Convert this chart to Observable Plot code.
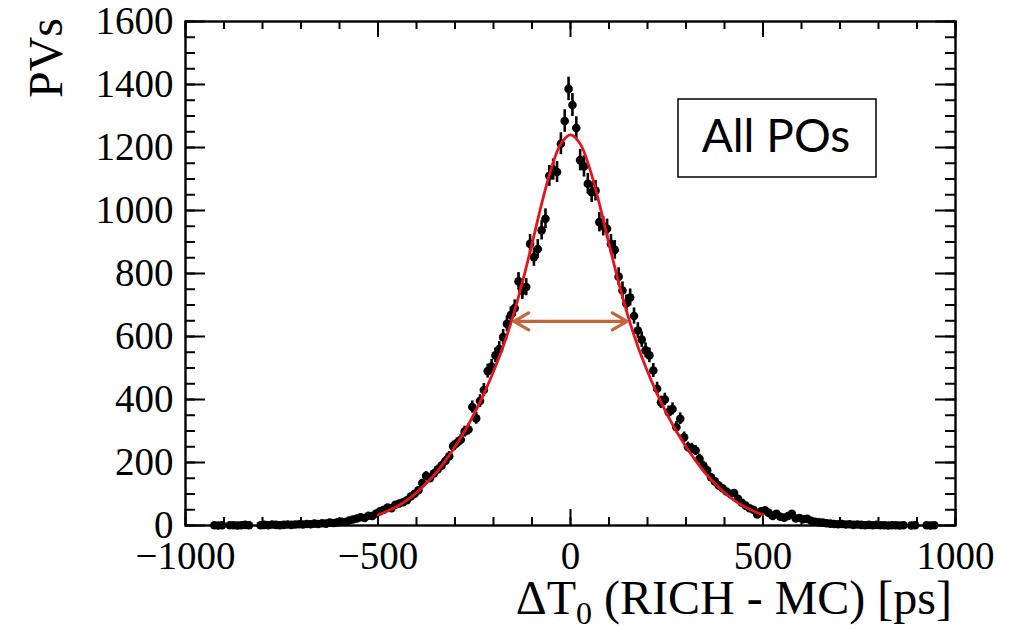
<!DOCTYPE html>
<html>
<head>
<meta charset="utf-8">
<script src="https://cdn.jsdelivr.net/npm/d3@7"></script>
<script src="https://cdn.jsdelivr.net/npm/@observablehq/plot@0.6"></script>
<style>
  html, body { margin: 0; padding: 0; background: #fff; }
</style>
</head>
<body>
<div id="chart"></div>
<script>
// ---------- data ----------
// histogram: 10 ps bins, first bin centre at -995 ps; null = empty bin (not drawn)
const binStart = -995;
const binWidth = 10;
const counts = [
  null, null, null, null, null, null, null, 1, 0, 1,          // -995 .. -905
  null, 1, 1, 0, 1, 2, 1, null, null, 1,                      // -895 .. -805
  2, 1, 3, 2, 1, 2, 3, 2, 3, 4,                               // -795 .. -705
  3, 5, 4, 6, 5, 7, 6, 9, 8, 10,                              // -695 .. -605
  12, 11, 16, 19, 22, 26, 24, 31, 30, 38,                     // -595 .. -505
  45, 50, 57, 55, 66, 70, 74, 80, 92, 101,                    // -495 .. -405
  112, 135, 158, 150, 165, 178, 190, 205, 220, 252,           // -395 .. -305
  262, 272, 298, 305, 376, 340, 395, 430, 490, 505,           // -295 .. -205
  540, 560, 598, 640, 668, 690, 775, 745, 757, 894,           // -195 .. -105
  852, 878, 937, 974, 1110, 1130, 1122, 1212, 1284, 1386,     //  -95 ..   -5
  1335, 1262, 1160, 1140, 1085, 1058, 1063, 963, 950, 942,    //    5 ..   95
  894, 875, 790, 746, 705, 724, 665, 619, 590, 556,           //  105 ..  195
  540, 492, 434, 391, 400, 360, 370, 312, 339, 280,           //  205 ..  295
  249, 245, 238, 212, 190, 175, 153, 140, 127, 118,           //  305 ..  395
  108, 101, 103, 85, 72, 63, 55, 50, 35, 45,                  //  405 ..  495
  48, 40, 30, 37, 28, 25, 30, 37, 22, 24,                     //  505 ..  595
  20, 21, 15, 12, 10, 9, 7, 6, 5, 4,                          //  605 ..  695
  5, 3, 4, 2, 3, 2, 1, 2, 1, 2,                               //  705 ..  795
  1, 1, 0, 1, 1, 0, 1, null, 0, 1,                            //  805 ..  895
  null, null, 1, 0, 1, null, null, null, null, null           //  905 ..  995
];

// fitted curve (red), read at 25 ps steps
const fitX = [-500,-475,-450,-425,-400,-375,-350,-325,-300,-275,-250,-225,-200,-175,-150,-125,-100,-75,-50,-25,
              0,25,50,75,100,125,150,175,200,225,250,275,300,325,350,375,400,425,450,475,500];
const fitY = [34,46,61,80,104,133,166,206,250,299,355,418,489,568,662,772,894,1021,1133,1212,
              1240,1212,1133,1021,894,772,662,568,489,418,355,299,250,206,166,133,104,80,61,46,34];

// FWHM arrow
const fwhmLow = -147, fwhmHigh = 147, fwhmLevel = 648;

// axes
const xTicks = [-1000, -500, 0, 500, 1000];
const yTicks = [0, 200, 400, 600, 800, 1000, 1200, 1400, 1600];
const xTitleMain = "\u0394T", xTitleSub = "0", xTitleRest = " (RICH - MC) [ps]";
const yTitle = "PVs";
const boxLabel = "All POs";

// ---------- build ----------
const hist = counts.map((n, i) => ({x: binStart + i * binWidth, n})).filter(d => d.n !== null);
const fit = fitX.map((x, i) => ({x, y: fitY[i]}));
const xMinor = d3.range(-1000, 1001, 100);
const yMinor = d3.range(0, 1601, 50);
const fmt = d => d < 0 ? "\u2212" + Math.abs(d) : String(d);

const W = 1023, H = 630;
const mL = 185, mR = 68, mT = 21, mB = 105;
const fW = W - mL - mR, fH = H - mT - mB;

const chart = Plot.plot({
  width: W, height: H,
  marginLeft: mL, marginRight: mR, marginTop: mT, marginBottom: mB,
  x: {domain: [-1000, 1000]},
  y: {domain: [0, 1600]},
  style: {fontFamily: "'Liberation Serif', 'Times New Roman', serif", fontSize: "39px", color: "#000", background: "#fff"},
  marks: [
    // ROOT-style inward ticks on all four sides
    Plot.ruleX(xMinor, {insetTop: fH - 8, stroke: "#000", strokeWidth: 2}),
    Plot.ruleX(xTicks, {insetTop: fH - 16, stroke: "#000", strokeWidth: 2}),
    Plot.ruleX(xMinor, {insetBottom: fH - 8, stroke: "#000", strokeWidth: 2}),
    Plot.ruleX(xTicks, {insetBottom: fH - 16, stroke: "#000", strokeWidth: 2}),
    Plot.ruleY(yMinor, {insetRight: fW - 10, stroke: "#000", strokeWidth: 2}),
    Plot.ruleY(yTicks, {insetRight: fW - 20, stroke: "#000", strokeWidth: 2}),
    Plot.ruleY(yMinor, {insetLeft: fW - 10, stroke: "#000", strokeWidth: 2}),
    Plot.ruleY(yTicks, {insetLeft: fW - 20, stroke: "#000", strokeWidth: 2}),
    Plot.axisX(xTicks, {tickSize: 0, tickPadding: 16, tickFormat: fmt, label: null}),
    Plot.axisY(yTicks, {tickSize: 0, tickPadding: 12, tickFormat: fmt, label: null}),
    // data points with Poisson error bars
    Plot.ruleX(hist, {x: "x", y1: d => d.n - Math.sqrt(d.n), y2: d => d.n + Math.sqrt(d.n), stroke: "#000", strokeWidth: 2.6}),
    Plot.dot(hist, {x: "x", y: "n", r: 4.3, fill: "#000", stroke: "none"}),
    // fit
    Plot.line(fit, {x: "x", y: "y", stroke: "#e8141c", strokeWidth: 2.8, curve: "catmull-rom"}),
    // FWHM double arrow
    Plot.arrow([fwhmLow, fwhmHigh], {x1: (fwhmLow + fwhmHigh) / 2, y1: fwhmLevel, x2: d => d, y2: fwhmLevel,
      stroke: "#c5653b", strokeWidth: 3.2, headLength: 8, headAngle: 60}),
    Plot.frame({stroke: "#000", strokeWidth: 2.4})
  ]
});

document.getElementById("chart").appendChild(chart);
const svg = d3.select(chart);

// label box
svg.append("rect").attr("x", 678).attr("y", 99).attr("width", 198).attr("height", 78)
  .attr("fill", "#fff").attr("stroke", "#000").attr("stroke-width", 1.5);
svg.append("text").attr("x", 776).attr("y", 152).attr("text-anchor", "middle")
  .attr("font-family", "Lato, 'Open Sans', 'Noto Sans', sans-serif").attr("font-weight", 400)
  .attr("font-size", 46).attr("fill", "#000").text(boxLabel);

// x title with subscript
const xt = svg.append("text").attr("x", 952).attr("y", 614).attr("text-anchor", "end")
  .attr("font-family", "'Liberation Serif', 'Times New Roman', serif").attr("font-size", 48).attr("fill", "#000");
xt.append("tspan").text(xTitleMain);
xt.append("tspan").attr("font-size", 32).attr("dy", 10).text(xTitleSub);
xt.append("tspan").attr("dy", -10).text(xTitleRest);

// y title
svg.append("text").attr("transform", "translate(62,18) rotate(-90)").attr("text-anchor", "end")
  .attr("font-family", "'Liberation Serif', 'Times New Roman', serif").attr("font-size", 48)
  .attr("fill", "#000").text(yTitle);
</script>
</body>
</html>
